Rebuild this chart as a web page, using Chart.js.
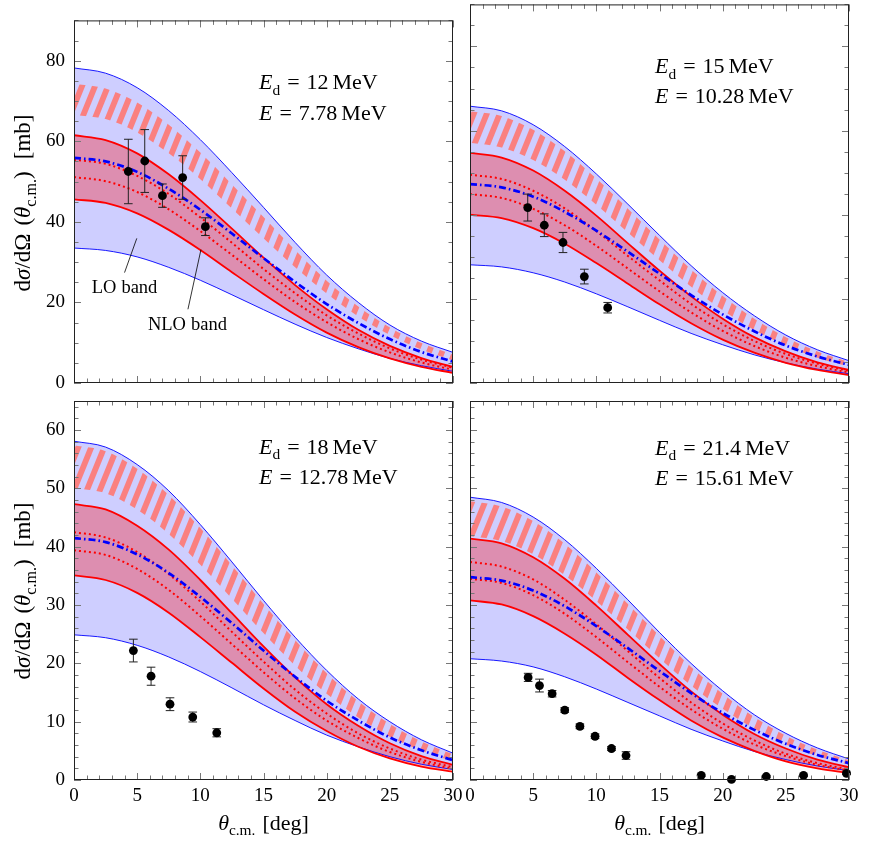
<!DOCTYPE html>
<html>
<head>
<meta charset="utf-8">
<title>d-alpha cross sections</title>
<script src="https://cdn.jsdelivr.net/npm/chart.js@4.4.1/dist/chart.umd.min.js"></script>
<style>
  html, body { margin: 0; padding: 0; background: #fff; }
  #wrap { position: relative; width: 871px; height: 848px; }
  #wrap canvas { position: absolute; left: 0; top: 0; }
</style>
</head>
<body>
<div id="wrap">
  <canvas id="c12" width="871" height="848"></canvas>
  <canvas id="c15" width="871" height="848"></canvas>
  <canvas id="c18" width="871" height="848"></canvas>
  <canvas id="c21" width="871" height="848"></canvas>
</div>
<script>
// angle grid shared by all curves (deg)
const theta = [0, 2.5, 5, 7.5, 10, 12.5, 15, 17.5, 20, 22.5, 25, 27.5, 30];

// E_d = 12 MeV
const loHi12    = [78.2, 76.9, 73.3, 67.6, 60.4, 52.2, 43.6, 34.9, 26.8, 20.0, 14.4, 10.4, 7.6];
const loLo12    = [33.5, 32.9, 31.3, 28.7, 25.5, 21.9, 18.2, 14.6, 11.3, 8.5, 6.1, 4.3, 2.9];
const hatchHi12 = [74.3, 73.1, 69.6, 64.1, 57.2, 49.3, 41.2, 33.0, 25.4, 19.0, 13.8, 9.9, 7.0];
const hatchLo12 = [66.6, 65.5, 62.2, 57.0, 50.6, 43.3, 35.9, 28.7, 22.2, 16.5, 11.9, 8.3, 5.6];
const nloHi12   = [61.5, 60.3, 57.0, 51.8, 45.4, 38.3, 31.1, 24.3, 18.3, 13.2, 9.2, 6.2, 4.0];
const nloLo12   = [45.6, 44.7, 42.1, 38.0, 33.0, 27.5, 22.1, 17.0, 12.5, 8.9, 6.1, 4.0, 2.5];
const dotHi12   = [55.4, 54.4, 51.4, 46.9, 41.1, 34.8, 28.3, 22.3, 16.8, 12.3, 8.6, 5.8, 3.8];
const dotLo12   = [51.1, 50.1, 47.4, 43.1, 37.7, 31.8, 25.8, 20.1, 15.1, 10.9, 7.6, 5.1, 3.3];
const dashDot12 = [55.9, 55.0, 52.4, 48.2, 43.0, 37.1, 31.0, 25.1, 19.6, 14.9, 10.9, 7.7, 5.3];
const expTh12   = [4.3, 5.6, 7.0, 8.6, 10.4];
const expVal12  = [52.5, 55.1, 46.5, 51.0, 38.8];
const expErr12  = [8.0, 7.8, 2.9, 5.4, 2.2];

// E_d = 15 MeV
const loHi15    = [65.8, 64.7, 61.4, 56.2, 49.7, 42.5, 35.1, 27.9, 21.5, 16.0, 11.4, 7.9, 5.3];
const loLo15    = [28.1, 27.6, 26.2, 24.0, 21.2, 18.1, 14.9, 11.8, 9.1, 6.7, 4.8, 3.3, 2.2];
const hatchHi15 = [64.6, 63.5, 60.2, 55.1, 48.6, 41.4, 34.1, 27.0, 20.7, 15.3, 10.9, 7.5, 5.0];
const hatchLo15 = [57.1, 56.0, 53.0, 48.3, 42.4, 35.8, 29.2, 22.9, 17.3, 12.6, 8.9, 6.0, 3.9];
const nloHi15   = [54.7, 53.6, 50.5, 45.7, 39.8, 33.2, 26.7, 20.6, 15.3, 10.9, 7.5, 4.9, 3.1];
const nloLo15   = [40.0, 39.2, 36.8, 33.1, 28.5, 23.6, 18.7, 14.2, 10.3, 7.2, 4.8, 3.1, 1.9];
const dotHi15   = [49.5, 48.5, 45.7, 41.5, 36.1, 30.2, 24.4, 18.8, 14.0, 10.0, 6.9, 4.6, 2.9];
const dotLo15   = [44.9, 44.0, 41.4, 37.5, 32.6, 27.2, 21.8, 16.8, 12.4, 8.8, 6.0, 4.0, 2.5];
const dashDot15 = [47.3, 46.5, 44.3, 40.7, 36.2, 31.2, 26.0, 20.9, 16.3, 12.3, 8.9, 6.3, 4.3];
const expTh15   = [4.57, 5.88, 7.36, 9.05, 10.9];
const expVal15  = [41.7, 37.5, 33.4, 25.3, 17.9];
const expErr15  = [3.2, 2.7, 2.4, 1.75, 1.25];

// E_d = 18 MeV
const loHi18    = [58.1, 57.1, 54.1, 49.6, 43.8, 37.4, 30.8, 24.5, 18.8, 13.9, 10.0, 6.9, 4.6];
const loLo18    = [24.9, 24.4, 23.1, 21.1, 18.6, 15.8, 12.9, 10.2, 7.7, 5.7, 4.0, 2.7, 1.8];
const hatchHi18 = [57.4, 56.4, 53.4, 48.9, 43.2, 36.8, 30.2, 24.0, 18.3, 13.5, 9.6, 6.6, 4.4];
const hatchLo18 = [50.1, 49.2, 46.4, 42.2, 36.9, 31.1, 25.2, 19.6, 14.8, 10.7, 7.4, 5.0, 3.2];
const nloHi18   = [47.3, 46.4, 43.6, 39.5, 34.3, 28.6, 22.9, 17.6, 13.0, 9.3, 6.3, 4.1, 2.6];
const nloLo18   = [35.1, 34.3, 32.1, 28.7, 24.5, 20.1, 15.7, 11.7, 8.4, 5.7, 3.7, 2.3, 1.4];
const dotHi18   = [42.5, 41.6, 39.1, 35.3, 30.6, 25.4, 20.3, 15.5, 11.4, 8.0, 5.4, 3.5, 2.2];
const dotLo18   = [39.4, 38.6, 36.2, 32.6, 28.1, 23.3, 18.5, 14.0, 10.2, 7.2, 4.8, 3.1, 1.9];
const dashDot18 = [41.5, 40.8, 38.7, 35.5, 31.4, 26.9, 22.2, 17.7, 13.6, 10.2, 7.3, 5.1, 3.4];
const expTh18   = [4.7, 6.1, 7.6, 9.4, 11.3];
const expVal18  = [22.2, 17.8, 13.0, 10.8, 8.1];
const expErr18  = [1.95, 1.55, 1.1, 0.85, 0.7];

// E_d = 21.4 MeV
const loHi21    = [48.5, 47.6, 45.1, 41.2, 36.3, 30.9, 25.3, 20.0, 15.3, 11.2, 8.0, 5.5, 3.6];
const loLo21    = [20.8, 20.4, 19.4, 17.7, 15.6, 13.3, 11.0, 8.7, 6.7, 4.9, 3.5, 2.4, 1.6];
const hatchHi21 = [47.8, 46.9, 44.4, 40.5, 35.6, 30.2, 24.7, 19.4, 14.8, 10.8, 7.6, 5.2, 3.4];
const hatchLo21 = [41.8, 41.0, 38.7, 35.1, 30.7, 25.8, 20.9, 16.2, 12.2, 8.8, 6.1, 4.1, 2.6];
const nloHi21   = [41.4, 40.6, 38.2, 34.5, 29.9, 24.9, 19.9, 15.2, 11.2, 7.9, 5.4, 3.5, 2.2];
const nloLo21   = [30.8, 30.1, 28.1, 25.1, 21.5, 17.5, 13.7, 10.2, 7.3, 5.0, 3.2, 2.0, 1.2];
const dotHi21   = [37.4, 36.6, 34.4, 30.9, 26.7, 22.1, 17.5, 13.3, 9.7, 6.8, 4.5, 2.9, 1.8];
const dotLo21   = [34.5, 33.8, 31.7, 28.5, 24.5, 20.2, 16.0, 12.1, 8.8, 6.1, 4.1, 2.6, 1.6];
const dashDot21 = [34.8, 34.2, 32.5, 29.8, 26.4, 22.6, 18.7, 14.9, 11.5, 8.6, 6.2, 4.3, 2.9];
const expTh21   = [4.6, 5.5, 6.5, 7.5, 8.7, 9.9, 11.2, 12.35, 18.3, 20.7, 23.45, 26.4, 29.8];
const expVal21  = [17.6, 16.2, 14.8, 12.0, 9.2, 7.5, 5.4, 4.2, 0.8, 0.1, 0.6, 0.8, 1.15];
const expErr21  = [0.7, 1.1, 0.55, 0.4, 0.4, 0.4, 0.35, 0.65, 0.2, 0.1, 0.2, 0.2, 0.2];

const SERIF = '"Liberation Serif", "Times New Roman", serif';
const BLUE = 'rgb(0,0,255)';
const RED = 'rgb(255,0,0)';

// hatch fill: thick salmon "/" stripes on a transparent tile
function hatchPattern(ctx) {
    const W = 13, H = 32;
    const tile = document.createElement('canvas');
    tile.width = W;
    tile.height = H;
    const t = tile.getContext('2d');
    t.strokeStyle = 'rgb(250,128,128)';
    t.lineWidth = 5.8;
    for (let k = -1; k <= 2; k++) {
        t.beginPath();
        t.moveTo(k * W - W * 0.5, H * 1.5);
        t.lineTo(k * W + W * 1.5, -H * 0.5);
        t.stroke();
    }
    return ctx.createPattern(tile, 'repeat');
}

// small rich-text helper (italic, subscripts, fixed spaces)
function partFont(pt, size) {
    const s = pt.sub ? size * 0.7 : size;
    return (pt.it ? 'italic ' : '') + s.toFixed(1) + 'px ' + SERIF;
}

function drawRich(ctx, parts, x, y, size, align) {
    let w = 0;
    parts.forEach(pt => {
        if (pt.sp) { w += pt.sp; return; }
        ctx.font = partFont(pt, size);
        w += ctx.measureText(pt.t).width;
    });
    let cx = align === 'center' ? x - w / 2 : x;
    ctx.textAlign = 'left';
    ctx.textBaseline = 'alphabetic';
    ctx.fillStyle = '#000';
    parts.forEach(pt => {
        if (pt.sp) { cx += pt.sp; return; }
        ctx.font = partFont(pt, size);
        ctx.fillText(pt.t, cx, y + (pt.sub ? size * 0.24 : 0));
        cx += ctx.measureText(pt.t).width;
    });
}

const yTitle = [{ t: 'd' }, { t: 'σ', it: 1 }, { t: '/' }, { t: 'd' }, { t: 'Ω' }, { sp: 8 },
    { t: '(' }, { t: 'θ', it: 1 }, { t: 'c.m.', sub: 1 }, { t: ')' }, { sp: 12 }, { t: '[mb]' }];
const xTitle = [{ t: 'θ', it: 1 }, { t: 'c.m.', sub: 1 }, { sp: 7 }, { t: '[deg]' }];

const panels = [
    { id: 'c12', ed: '12', e: '7.78', box: [74, 4, 453, 383], ymax: 90, ystep: 20, yminor: 5,
      left: true, bottom: false, textY: [69, 100], titleY: 203,
      curves: [loHi12, loLo12, hatchHi12, hatchLo12, nloHi12, nloLo12, dotHi12, dotLo12, dashDot12],
      exp: [expTh12, expVal12, expErr12], bandLabels: true },
    { id: 'c15', ed: '15', e: '10.28', box: [470, 4, 849, 383], ymax: 90, ystep: 20, yminor: 5,
      left: false, bottom: false, textY: [69, 99],
      curves: [loHi15, loLo15, hatchHi15, hatchLo15, nloHi15, nloLo15, dotHi15, dotLo15, dashDot15],
      exp: [expTh15, expVal15, expErr15] },
    { id: 'c18', ed: '18', e: '12.78', box: [74, 401, 453, 780], ymax: 65, ystep: 10, yminor: 2,
      left: true, bottom: true, textY: [53, 83], titleY: 591,
      curves: [loHi18, loLo18, hatchHi18, hatchLo18, nloHi18, nloLo18, dotHi18, dotLo18, dashDot18],
      exp: [expTh18, expVal18, expErr18] },
    { id: 'c21', ed: '21.4', e: '15.61', box: [470, 401, 849, 780], ymax: 65, ystep: 10, yminor: 2,
      left: false, bottom: true, textY: [54, 84],
      curves: [loHi21, loLo21, hatchHi21, hatchLo21, nloHi21, nloLo21, dotHi21, dotLo21, dashDot21],
      exp: [expTh21, expVal21, expErr21] }
];

function decoFor(p) {
    return {
        id: 'deco_' + p.id,
        beforeDatasetDraw(chart, args) {
            if (args.index !== 0) return;
            // error bars under the data points
            const { ctx, scales: { x, y } } = chart;
            const [th, val, err] = p.exp;
            ctx.save();
            ctx.strokeStyle = '#222';
            ctx.lineWidth = 1;
            ctx.beginPath();
            th.forEach((t, i) => {
                const px = x.getPixelForValue(t);
                const y1 = y.getPixelForValue(val[i] + err[i]);
                const y2 = y.getPixelForValue(val[i] - err[i]);
                ctx.moveTo(px, y1); ctx.lineTo(px, y2);
                ctx.moveTo(px - 4.3, y1); ctx.lineTo(px + 4.3, y1);
                ctx.moveTo(px - 4.3, y2); ctx.lineTo(px + 4.3, y2);
            });
            ctx.stroke();
            ctx.restore();
        },
        afterDatasetsDraw(chart) {
            const { ctx, chartArea: a, scales: { x, y } } = chart;
            ctx.save();
            // inward ticks on all four sides
            ctx.strokeStyle = '#777';
            ctx.lineWidth = 1;
            ctx.beginPath();
            for (let v = 0; v <= 30; v += 1) {
                const px = Math.round(x.getPixelForValue(v)) + 0.5;
                const len = v % 5 === 0 ? 7 : 4.5;
                ctx.moveTo(px, a.bottom); ctx.lineTo(px, a.bottom - len);
                ctx.moveTo(px, a.top); ctx.lineTo(px, a.top + len);
            }
            for (let v = 0; v <= p.ymax; v += p.yminor) {
                const py = Math.round(y.getPixelForValue(v)) + 0.5;
                const len = v % p.ystep === 0 ? 7 : 4.5;
                ctx.moveTo(a.left, py); ctx.lineTo(a.left + len, py);
                ctx.moveTo(a.right, py); ctx.lineTo(a.right - len, py);
            }
            ctx.stroke();
            // frame
            ctx.strokeStyle = '#222';
            ctx.strokeRect(a.left + 0.5, a.top + 0.5, a.right - a.left - 1, a.bottom - a.top - 1);
            ctx.restore();
        },
        afterDraw(chart) {
            const { ctx, chartArea: a, scales: { x, y } } = chart;
            ctx.save();
            drawRich(ctx, [{ t: 'E', it: 1 }, { t: 'd', sub: 1 }, { sp: 7 }, { t: '=' }, { sp: 7 },
                { t: p.ed }, { sp: 4 }, { t: 'MeV' }], a.left + 185, a.top + p.textY[0], 22, 'left');
            drawRich(ctx, [{ t: 'E', it: 1 }, { sp: 7 }, { t: '=' }, { sp: 7 },
                { t: p.e }, { sp: 4 }, { t: 'MeV' }], a.left + 185, a.top + p.textY[1], 22, 'left');
            if (p.left) {
                ctx.save();
                ctx.translate(30, p.titleY);
                ctx.rotate(-Math.PI / 2);
                drawRich(ctx, yTitle, 0, 0, 23, 'center');
                ctx.restore();
            }
            if (p.bottom) {
                drawRich(ctx, xTitle, (a.left + a.right) / 2, 830, 22, 'center');
            }
            if (p.bandLabels) {
                // "LO band" / "NLO band" with leader lines
                ctx.strokeStyle = '#000';
                ctx.lineWidth = 0.8;
                ctx.beginPath();
                ctx.moveTo(x.getPixelForValue(4.0), y.getPixelForValue(27.4));
                ctx.lineTo(x.getPixelForValue(4.97), y.getPixelForValue(35.9));
                ctx.moveTo(x.getPixelForValue(9.02), y.getPixelForValue(18.3));
                ctx.lineTo(x.getPixelForValue(10.05), y.getPixelForValue(33.1));
                ctx.stroke();
                drawRich(ctx, [{ t: 'LO' }, { sp: 5 }, { t: 'band' }],
                    x.getPixelForValue(4.0), y.getPixelForValue(22.3), 18.5, 'center');
                drawRich(ctx, [{ t: 'NLO' }, { sp: 5 }, { t: 'band' }],
                    x.getPixelForValue(8.98), y.getPixelForValue(13.2), 18.5, 'center');
            }
            ctx.restore();
        }
    };
}

function makePanel(p) {
    const canvas = document.getElementById(p.id);
    const ctx = canvas.getContext('2d');
    const pts = arr => theta.map((t, i) => ({ x: t, y: arr[i] }));
    const [loHi, loLo, hHi, hLo, nHi, nLo, dHi, dLo, dd] = p.curves;
    const [bx0, by0, bx1, by1] = p.box;
    const xAxisH = p.bottom ? 40 : 0;
    const yAxisW = p.left ? 74 : 0;
    const tickFont = { family: SERIF, size: 19 };
    const clear = 'rgba(0,0,0,0)';

    new Chart(ctx, {
        type: 'line',
        data: {
            datasets: [
                { data: p.exp[0].map((t, i) => ({ x: t, y: p.exp[1][i] })), showLine: false,
                  pointRadius: 4.4, pointBackgroundColor: '#000', pointBorderWidth: 0, clip: false },
                { data: pts(dd), borderColor: BLUE, borderWidth: 2.7, borderDash: [7, 3, 1.6, 3] },
                { data: pts(dHi), borderColor: RED, borderWidth: 2, borderDash: [2, 3] },
                { data: pts(dLo), borderColor: RED, borderWidth: 2, borderDash: [2, 3] },
                { data: pts(nHi), borderColor: RED, borderWidth: 1.8, fill: '+1',
                  backgroundColor: 'rgba(255,0,0,0.31)' },
                { data: pts(nLo), borderColor: RED, borderWidth: 1.8 },
                { data: pts(hHi), borderColor: clear, borderWidth: 1, fill: '+1',
                  backgroundColor: hatchPattern(ctx) },
                { data: pts(hLo), borderColor: clear, borderWidth: 1 },
                { data: pts(loHi), borderColor: BLUE, borderWidth: 0.9, fill: '+1',
                  backgroundColor: 'rgb(206,206,255)' },
                { data: pts(loLo), borderColor: BLUE, borderWidth: 0.9 }
            ]
        },
        options: {
            responsive: false,
            animation: false,
            events: [],
            layout: {
                padding: { left: bx0 - yAxisW, top: by0, right: 871 - bx1, bottom: 848 - by1 - xAxisH }
            },
            elements: {
                point: { radius: 0 },
                line: { cubicInterpolationMode: 'monotone' }
            },
            plugins: {
                legend: { display: false },
                tooltip: { enabled: false },
                filler: { drawTime: 'beforeDatasetsDraw' }
            },
            scales: {
                x: {
                    type: 'linear', min: 0, max: 30,
                    grid: { display: false, drawTicks: false },
                    border: { display: false },
                    ticks: { display: p.bottom, stepSize: 5, padding: 5, color: '#000', font: tickFont,
                             maxRotation: 0, autoSkip: false, includeBounds: false },
                    afterFit: s => { s.height = xAxisH; }
                },
                y: {
                    type: 'linear', min: 0, max: p.ymax,
                    grid: { display: false, drawTicks: false },
                    border: { display: false },
                    ticks: { display: p.left, stepSize: p.ystep, padding: 9, color: '#000', font: tickFont,
                             includeBounds: false },
                    afterFit: s => { s.width = yAxisW; }
                }
            }
        },
        plugins: [decoFor(p)]
    });
}

panels.forEach(makePanel);
</script>
</body>
</html>
